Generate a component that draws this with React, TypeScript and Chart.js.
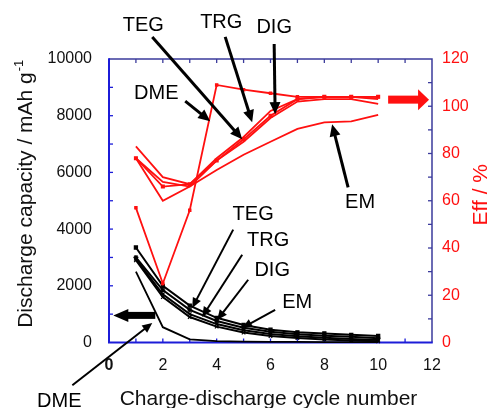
import React, { useEffect, useRef } from 'react';
import { Chart, registerables } from 'chart.js';

Chart.register(...registerables);

// ---------- data ----------
const cycles = [1, 2, 3, 4, 5, 6, 7, 8, 9, 10];

// discharge capacity (mAh g-1), left axis
const capTEG = [3350, 2000, 1300, 870, 620, 450, 360, 320, 270, 230];
const capTRG = [3000, 1850, 1150, 760, 520, 380, 290, 240, 200, 150];
const capDIG = [2950, 1700, 1000, 650, 430, 300, 220, 170, 120, 90];
const capEM = [2900, 1600, 900, 560, 350, 230, 160, 110, 70, 40];
const capDME = [2500, 540, 110, 50, 30, 20, 20, 15, 15, 15];

// coulombic efficiency (%), right axis
const effTEG = [78, 66, 67, 77, 86, 96, 103, 104, 104, 104];
const effTRG = [83, 70, 67, 78, 87, 98, 103, 104, 104, 103];
const effDIG = [78, 68, 66, 77, 85, 95, 102, 103, 103, 101];
const effEM = [78, 60, 66, 73, 79.5, 85, 90.4, 93.2, 93.6, 96.4];
const effDME = [57, 25, 56, 109, 107, 105.5, 104, 104, 104, 104];

const xTickValues = [0, 2, 4, 6, 8, 10, 12];
const capTickValues = [0, 2000, 4000, 6000, 8000, 10000];
const effTickValues = [0, 20, 40, 60, 80, 100, 120];

// annotation labels, in data units (x = cycle, y = capacity)
const upperNotes = [
  { text: 'TEG', x: 1.275, y: 11204, from: [1.607, 10779], to: [4.948, 7169] },
  { text: 'TRG', x: 4.17, y: 11310, from: [4.317, 10779], to: [5.319, 7770] },
  { text: 'DIG', x: 6.136, y: 11133, from: [6.136, 10531], to: [6.173, 8053] },
  { text: 'DME', x: 1.756, y: 8832, from: [2.832, 8513], to: [3.76, 7805] },
  { text: 'EM', x: 9.328, y: 4974, from: [8.883, 5469], to: [8.289, 7700] },
];
const lowerNotes = [
  { text: 'TEG', x: 5.356, y: 4549, from: [4.614, 3982], to: [3.092, 1221] },
  { text: 'TRG', x: 5.913, y: 3628, from: [4.948, 3097], to: [3.463, 903] },
  { text: 'DIG', x: 6.062, y: 2567, from: [5.171, 2213], to: [4.02, 797] },
  { text: 'EM', x: 6.99, y: 1434, from: [6.173, 1151], to: [4.948, 513] },
  { text: 'DME', x: -1.845, y: -2036, from: [-1.362, -1505], to: [1.607, 690] },
];

const FONT = '"Liberation Sans", Arial, Helvetica, sans-serif';
const BLUE = '#1c1cd8';
const NAVY = '#3b3b9c';
const RED = '#ff1010';

function drawArrow(ctx: CanvasRenderingContext2D, x1: number, y1: number, x2: number, y2: number, lw: number, hl: number, hw: number) {
  const ang = Math.atan2(y2 - y1, x2 - x1);
  const c = Math.cos(ang), s = Math.sin(ang);
  const bx = x2 - hl * c, by = y2 - hl * s;
  ctx.lineWidth = lw;
  ctx.beginPath();
  ctx.moveTo(x1, y1);
  ctx.lineTo(bx + c, by + s);
  ctx.stroke();
  ctx.beginPath();
  ctx.moveTo(x2, y2);
  ctx.lineTo(bx + (hw / 2) * s, by - (hw / 2) * c);
  ctx.lineTo(bx - (hw / 2) * s, by + (hw / 2) * c);
  ctx.closePath();
  ctx.fill();
}

const framePlugin = {
  id: 'frame',
  beforeDatasetsDraw(chart: any) {
    const { ctx, chartArea: a, scales } = chart;
    const x = scales.x, yl = scales.y, yr = scales.y2;
    ctx.save();
    ctx.lineCap = 'butt';
    // inward ticks
    ctx.lineWidth = 1.3;
    for (let v = 1; v < 12; v++) {
      const px = x.getPixelForValue(v);
      ctx.strokeStyle = NAVY;
      ctx.beginPath(); ctx.moveTo(px, a.top); ctx.lineTo(px, a.top + 4); ctx.stroke();
      ctx.strokeStyle = BLUE;
      ctx.beginPath(); ctx.moveTo(px, a.bottom); ctx.lineTo(px, a.bottom - 4); ctx.stroke();
    }
    ctx.strokeStyle = BLUE;
    for (let v = 1000; v < 10000; v += 1000) {
      const py = yl.getPixelForValue(v);
      ctx.beginPath(); ctx.moveTo(a.left, py); ctx.lineTo(a.left + 4, py); ctx.stroke();
    }
    ctx.strokeStyle = NAVY;
    for (let v = 10; v < 120; v += 10) {
      const py = yr.getPixelForValue(v);
      ctx.beginPath(); ctx.moveTo(a.right, py); ctx.lineTo(a.right - 4, py); ctx.stroke();
    }
    // frame
    ctx.strokeStyle = NAVY;
    ctx.lineWidth = 1.5;
    ctx.beginPath(); ctx.moveTo(a.left, a.top); ctx.lineTo(a.right, a.top); ctx.lineTo(a.right, a.bottom); ctx.stroke();
    ctx.strokeStyle = BLUE;
    ctx.lineWidth = 2;
    ctx.beginPath(); ctx.moveTo(a.left, a.top - 0.75); ctx.lineTo(a.left, a.bottom); ctx.lineTo(a.right + 0.75, a.bottom); ctx.stroke();
    ctx.restore();
  },
};

const notesPlugin = {
  id: 'notes',
  afterDatasetsDraw(chart: any) {
    const { ctx, scales } = chart;
    const x = scales.x, yl = scales.y, yr = scales.y2;
    const P = (vx: number, vy: number) => [x.getPixelForValue(vx), yl.getPixelForValue(vy)];
    ctx.save();
    ctx.fillStyle = '#000';
    ctx.strokeStyle = '#000';
    ctx.font = `20px ${FONT}`;
    ctx.textAlign = 'center';
    ctx.textBaseline = 'middle';
    for (const n of upperNotes) {
      const [tx, ty] = P(n.x, n.y);
      ctx.fillText(n.text, tx, ty + 1);
      const [fx, fy] = P(n.from[0], n.from[1]);
      const [ex, ey] = P(n.to[0], n.to[1]);
      drawArrow(ctx, fx, fy, ex, ey, 3, 12, 11);
    }
    for (const n of lowerNotes) {
      const [tx, ty] = P(n.x, n.y);
      ctx.fillText(n.text, tx, ty + 1);
      const [fx, fy] = P(n.from[0], n.from[1]);
      const [ex, ey] = P(n.to[0], n.to[1]);
      drawArrow(ctx, fx, fy, ex, ey, 2, 10, 9);
    }
    // big black arrow pointing to left axis
    {
      const tipX = x.getPixelForValue(0.16), tailX = x.getPixelForValue(1.72);
      const py = yl.getPixelForValue(956);
      drawArrow(ctx, tailX, py, tipX, py, 7, 15, 13);
    }
    // big red arrow pointing to right axis
    {
      ctx.fillStyle = RED;
      ctx.strokeStyle = RED;
      const tipX = x.getPixelForValue(11.89), tailX = x.getPixelForValue(10.37);
      const py = yr.getPixelForValue(102.8);
      drawArrow(ctx, tailX, py, tipX, py, 8, 11, 21);
    }
    ctx.restore();
  },
  afterDraw(chart: any) {
    const { ctx, chartArea: a } = chart;
    ctx.save();
    ctx.font = `21px ${FONT}`;
    ctx.textBaseline = 'alphabetic';
    // x title
    ctx.fillStyle = '#111';
    ctx.textAlign = 'center';
    ctx.fillText('Charge-discharge cycle number', (a.left + a.right) / 2 - 2, 405);
    // left title with superscript
    const main = 'Discharge capacity / mAh g';
    const sup = '-1';
    ctx.font = `21px ${FONT}`;
    const wm = ctx.measureText(main).width;
    ctx.font = `13px ${FONT}`;
    const ws = ctx.measureText(sup).width;
    const total = wm + ws + 1;
    ctx.save();
    ctx.translate(31.5, (a.top + a.bottom) / 2 - 7);
    ctx.rotate(-Math.PI / 2);
    ctx.textAlign = 'left';
    ctx.font = `21px ${FONT}`;
    ctx.fillText(main, -total / 2, 0);
    ctx.font = `13px ${FONT}`;
    ctx.fillText(sup, -total / 2 + wm + 1, -9);
    ctx.restore();
    // right title
    ctx.save();
    ctx.fillStyle = RED;
    ctx.font = `21px ${FONT}`;
    ctx.translate(487, (a.top + a.bottom) / 2 - 6);
    ctx.rotate(-Math.PI / 2);
    ctx.textAlign = 'center';
    ctx.fillText('Eff / %', 0, 0);
    ctx.restore();
    ctx.restore();
  },
};

function line(label: string, data: number[], color: string, axis: string, pointStyle: any, radius: number, width: number) {
  return {
    label,
    data: cycles.map((c, i) => ({ x: c, y: data[i] })),
    borderColor: color,
    backgroundColor: color,
    borderWidth: width,
    pointStyle,
    pointRadius: radius,
    pointBorderWidth: 1.2,
    yAxisID: axis,
    tension: 0,
    clip: false as any,
  };
}

export default function App() {
  const ref = useRef<HTMLCanvasElement | null>(null);
  useEffect(() => {
    document.body.style.margin = '0';
    const canvas = ref.current;
    if (!canvas) return;
    const tickFont = (c: any) => ({ family: FONT, size: 16, weight: c && c.tick && c.tick.value === 0 && c.scale && c.scale.axis === 'x' ? 'bold' : 'normal' });
    const chart = new Chart(canvas, {
      type: 'line',
      data: {
        datasets: [
          line('Eff TEG', effTEG, RED, 'y2', 'rect', 2, 1.8),
          line('Eff TRG', effTRG, RED, 'y2', false, 0, 1.8),
          line('Eff DIG', effDIG, RED, 'y2', false, 0, 1.8),
          line('Eff EM', effEM, RED, 'y2', false, 0, 1.8),
          line('Eff DME', effDME, RED, 'y2', 'rect', 1.6, 1.8),
          line('Cap EM', capEM, '#000', 'y', 'crossRot', 2.5, 2),
          line('Cap DIG', capDIG, '#000', 'y', 'crossRot', 2.5, 2),
          line('Cap TRG', capTRG, '#000', 'y', 'star', 2.5, 2),
          line('Cap TEG', capTEG, '#000', 'y', 'rect', 2.2, 2),
          line('Cap DME', capDME, '#000', 'y', false, 0, 1.8),
        ] as any,
      },
      options: {
        responsive: false,
        animation: false,
        layout: { padding: { top: 59, left: 0, right: 0, bottom: 0 } },
        plugins: { legend: { display: false }, tooltip: { enabled: false }, title: { display: false } },
        scales: {
          x: {
            type: 'linear',
            min: 0,
            max: 12,
            afterBuildTicks: (s: any) => { s.ticks = xTickValues.map((v) => ({ value: v })); },
            afterFit: (s: any) => { s.height = 65.5; },
            grid: { display: false, drawTicks: false },
            border: { display: false },
            ticks: { color: '#111', font: tickFont as any, padding: 13, maxRotation: 0, autoSkip: false },
          },
          y: {
            type: 'linear',
            position: 'left',
            min: 0,
            max: 10000,
            afterBuildTicks: (s: any) => { s.ticks = capTickValues.map((v) => ({ value: v })); },
            afterFit: (s: any) => { s.width = 109; },
            grid: { display: false, drawTicks: false },
            border: { display: false },
            ticks: { color: '#111', font: { family: FONT, size: 16 }, padding: 17, callback: (v: any) => String(v) },
          },
          y2: {
            type: 'linear',
            position: 'right',
            min: 0,
            max: 120,
            afterBuildTicks: (s: any) => { s.ticks = effTickValues.map((v) => ({ value: v })); },
            afterFit: (s: any) => { s.width = 57; },
            grid: { display: false, drawTicks: false },
            border: { display: false },
            ticks: { color: RED, font: { family: FONT, size: 16 }, padding: 10, callback: (v: any) => String(v) },
          },
        },
      } as any,
      plugins: [framePlugin, notesPlugin],
    });
    return () => chart.destroy();
  }, []);
  return (
    <div style={{ width: 489, height: 408 }}>
      <canvas ref={ref} width={489} height={408} style={{ display: 'block' }} />
    </div>
  );
}
